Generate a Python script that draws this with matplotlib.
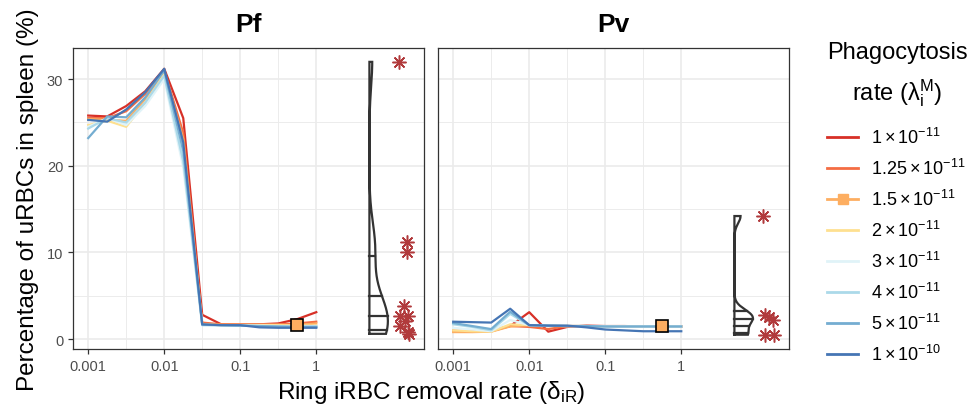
import numpy as np
import matplotlib
matplotlib.use("Agg")
import matplotlib.pyplot as plt
from matplotlib.lines import Line2D

plt.rcParams['font.family'] = ['Liberation Sans', 'DejaVu Sans']
plt.rcParams['mathtext.fontset'] = 'custom'
plt.rcParams['mathtext.rm'] = 'Liberation Sans'
plt.rcParams['mathtext.it'] = 'Liberation Sans:italic'

# ---------------- data ----------------
removal_rate = [0.001, 0.00178, 0.00316, 0.00562, 0.01, 0.0178, 0.0316,
                0.0562, 0.1, 0.178, 0.316, 0.562, 1.0]

phago_labels = [r'$\mathregular{1\times10^{-11}}$', r'$\mathregular{1.25\times10^{-11}}$',
                r'$\mathregular{1.5\times10^{-11}}$', r'$\mathregular{2\times10^{-11}}$',
                r'$\mathregular{3\times10^{-11}}$', r'$\mathregular{4\times10^{-11}}$',
                r'$\mathregular{5\times10^{-11}}$', r'$\mathregular{1\times10^{-10}}$']
phago_colors = ['#d73027', '#f46d43', '#fdae61', '#fee090',
                '#e0f3f8', '#abd9e9', '#74add1', '#4575b4']

pf_1e11   = [25.8, 25.7, 26.9, 28.6, 31.2, 25.5, 2.8, 1.7, 1.65, 1.7, 1.8, 2.3, 3.1]
pf_125e11 = [25.5, 25.5, 26.3, 28.3, 31.0, 23.8, 1.9, 1.7, 1.7, 1.7, 1.7, 1.8, 2.0]
pf_15e11  = [25.4, 25.3, 25.2, 27.7, 30.8, 23.1, 1.7, 1.65, 1.65, 1.65, 1.65, 1.6, 1.8]
pf_2e11   = [24.7, 25.2, 24.5, 27.3, 30.6, 22.3, 1.7, 1.6, 1.6, 1.6, 1.6, 1.55, 1.55]
pf_3e11   = [24.5, 25.5, 24.7, 26.9, 30.0, 19.8, 1.6, 1.6, 1.55, 1.55, 1.5, 1.5, 1.5]
pf_4e11   = [24.3, 25.5, 25.0, 27.3, 30.4, 20.5, 1.6, 1.6, 1.55, 1.5, 1.45, 1.45, 1.45]
pf_5e11   = [23.2, 25.7, 25.6, 27.9, 31.0, 21.7, 1.65, 1.6, 1.55, 1.5, 1.45, 1.4, 1.4]
pf_1e10   = [25.3, 25.1, 26.5, 28.5, 31.2, 22.7, 1.7, 1.6, 1.6, 1.35, 1.3, 1.3, 1.3]

pv_1e11   = [0.95, 0.9, 1.0, 1.5, 3.1, 0.85, 1.4, 1.55, 1.5, 1.5, 1.45, 1.45, 1.45]
pv_125e11 = [0.9, 0.9, 0.9, 1.5, 1.4, 1.15, 1.5, 1.5, 1.45, 1.45, 1.45, 1.45, 1.45]
pv_15e11  = [0.8, 0.8, 0.85, 1.45, 1.6, 1.5, 1.5, 1.5, 1.45, 1.45, 1.45, 1.5, 1.45]
pv_2e11   = [1.0, 0.9, 0.85, 1.7, 1.6, 1.55, 1.5, 1.5, 1.45, 1.45, 1.45, 1.45, 1.45]
pv_3e11   = [1.3, 1.1, 0.9, 2.2, 1.6, 1.55, 1.5, 1.5, 1.45, 1.45, 1.45, 1.45, 1.45]
pv_4e11   = [1.7, 1.4, 1.0, 2.9, 1.6, 1.55, 1.5, 1.5, 1.45, 1.45, 1.45, 1.45, 1.45]
pv_5e11   = [1.85, 1.5, 1.15, 3.15, 1.6, 1.55, 1.5, 1.5, 1.45, 1.45, 1.45, 1.45, 1.45]
pv_1e10   = [2.0, 1.95, 1.9, 3.5, 1.6, 1.55, 1.55, 1.35, 1.1, 1.0, 0.9, 0.9, 0.9]

pf_series = [pf_1e11, pf_125e11, pf_15e11, pf_2e11, pf_3e11, pf_4e11, pf_5e11, pf_1e10]
pv_series = [pv_1e11, pv_125e11, pv_15e11, pv_2e11, pv_3e11, pv_4e11, pv_5e11, pv_1e10]

# chosen parameter point (index of series, index of removal rate)
chosen_series = 2
chosen_rate = 11

# observed data (shown as asterisks and half violin)
pf_obs = [32.0, 11.2, 10.0, 3.8, 2.7, 2.7, 2.1, 1.5, 0.8, 0.6]
pf_obs_xpos = [12.3, 15.6, 15.6, 14.4, 12.6, 16.1, 14.8, 12.6, 16.1, 16.6]
pv_obs = [14.2, 2.75, 2.6, 2.2, 0.5, 0.5]
pv_obs_xpos = [11.8, 12.6, 14.1, 16.1, 12.6, 16.6]

violin_pos = 5.0
violin_probs = [0.05, 0.25, 0.5, 0.75]

# ---------------- figure ----------------
fig = plt.figure(figsize=(9.7, 4.1), dpi=100)
W, H = 970, 410
ax_pf = fig.add_axes([73 / W, 1 - 350 / H, 351 / W, 301 / H])
ax_pv = fig.add_axes([438 / W, 1 - 350 / H, 351 / W, 301 / H])

star_color = '#b13a3c'
grid_col = '#ebebeb'


def kde_nrd0(data, grid):
    d = np.asarray(data, float)
    n = len(d)
    q75, q25 = np.percentile(d, [75, 25])
    lo = min(np.std(d, ddof=1), (q75 - q25) / 1.34)
    bw = 0.9 * lo * n ** (-0.2)
    z = (grid[:, None] - d[None, :]) / bw
    return np.exp(-0.5 * z ** 2).sum(axis=1) / (n * bw * np.sqrt(2 * np.pi))


def draw_violin(ax, data, pos, width_dec=0.243):
    grid = np.linspace(min(data), max(data), 512)
    dens = kde_nrd0(data, grid)
    rel = dens / dens.max()
    base = np.log10(pos)
    xr = 10 ** (base + width_dec * rel)
    xs = np.concatenate([[pos], xr, [pos, pos]])
    ys = np.concatenate([[grid[0]], grid, [grid[-1], grid[0]]])
    ax.plot(xs, ys, color='#333333', lw=1.6, solid_joinstyle='miter', zorder=4)
    cum = np.concatenate([[0], np.cumsum((dens[1:] + dens[:-1]) / 2 * np.diff(grid))])
    cum /= cum[-1]
    for p in violin_probs:
        yq = np.interp(p, cum, grid)
        rq = np.interp(yq, grid, rel)
        ax.plot([pos, 10 ** (base + width_dec * rq)], [yq, yq], color='#333333', lw=1.6, zorder=4)


for ax, series, obs, obs_x, title in [(ax_pf, pf_series, pf_obs, pf_obs_xpos, 'Pf'),
                                      (ax_pv, pv_series, pv_obs, pv_obs_xpos, 'Pv')]:
    ax.set_xscale('log')
    ax.set_xlim(10 ** -3.2, 10 ** 1.417)
    ax.set_ylim(-1.15, 33.6)
    ax.set_xticks([0.001, 0.01, 0.1, 1])
    ax.set_xticklabels(['0.001', '0.01', '0.1', '1'])
    ax.set_xticks([], minor=True)
    ax.set_yticks([0, 10, 20, 30])
    for v in [0, 10, 20, 30]:
        ax.axhline(v, color=grid_col, lw=1.2, zorder=0)
    for v in [5, 15, 25]:
        ax.axhline(v, color=grid_col, lw=0.65, zorder=0)
    for v in [0.001, 0.01, 0.1, 1]:
        ax.axvline(v, color=grid_col, lw=1.2, zorder=0)
    for v in [10 ** -2.5, 10 ** -1.5, 10 ** -0.5]:
        ax.axvline(v, color=grid_col, lw=0.65, zorder=0)
    for s, c in zip(series, phago_colors):
        ax.plot(removal_rate, s, color=c, lw=1.6, zorder=2)
    ax.plot(removal_rate[chosen_rate], series[chosen_series][chosen_rate], marker='s',
            ms=8, mfc=phago_colors[chosen_series], mec='black', mew=1.2, zorder=5)
    draw_violin(ax, obs, violin_pos)
    ax.plot(obs_x, obs, ls='none', marker=(8, 2, 0), ms=10, mec=star_color, mew=1.1,
            color=star_color, zorder=5)
    for sp in ax.spines.values():
        sp.set_color('#333333')
        sp.set_linewidth(0.9)
    ax.tick_params(axis='both', colors='#333333', length=3.5, width=0.9,
                   labelsize=10.5, labelcolor='#4d4d4d')
    ax.set_title(title, fontsize=19, fontweight='bold', pad=12)

ax_pv.set_yticklabels([])
ax_pv.tick_params(axis='y', length=0)
ax_pf.set_ylabel('Percentage of uRBCs in spleen (%)', fontsize=17.5, labelpad=6)
fig.text((73 + 789) / 2 / W, 1 - 393 / H,
         r'Ring iRBC removal rate ($\mathregular{\delta_{iR}}$)', fontsize=17.5,
         ha='center', va='center')

# legend
fig.text(897 / W, 1 - 53 / H, 'Phagocytosis', fontsize=17, ha='center', va='center')
fig.text(897 / W, 1 - 93 / H, r'rate ($\mathregular{\lambda_i^M}$)', fontsize=17,
         ha='center', va='center')
handles = []
for i, c in enumerate(phago_colors):
    if i == chosen_series:
        handles.append(Line2D([], [], color=c, lw=2, marker='s', ms=7, mfc=c, mec=c))
    else:
        handles.append(Line2D([], [], color=c, lw=2))
fig.legend(handles, phago_labels, loc='upper left', bbox_to_anchor=(820 / W, 1 - 121 / H),
           frameon=False, fontsize=13, handlelength=1.7, handletextpad=0.7,
           labelspacing=0.6, borderaxespad=0)

fig.savefig('out.png', dpi=100)
